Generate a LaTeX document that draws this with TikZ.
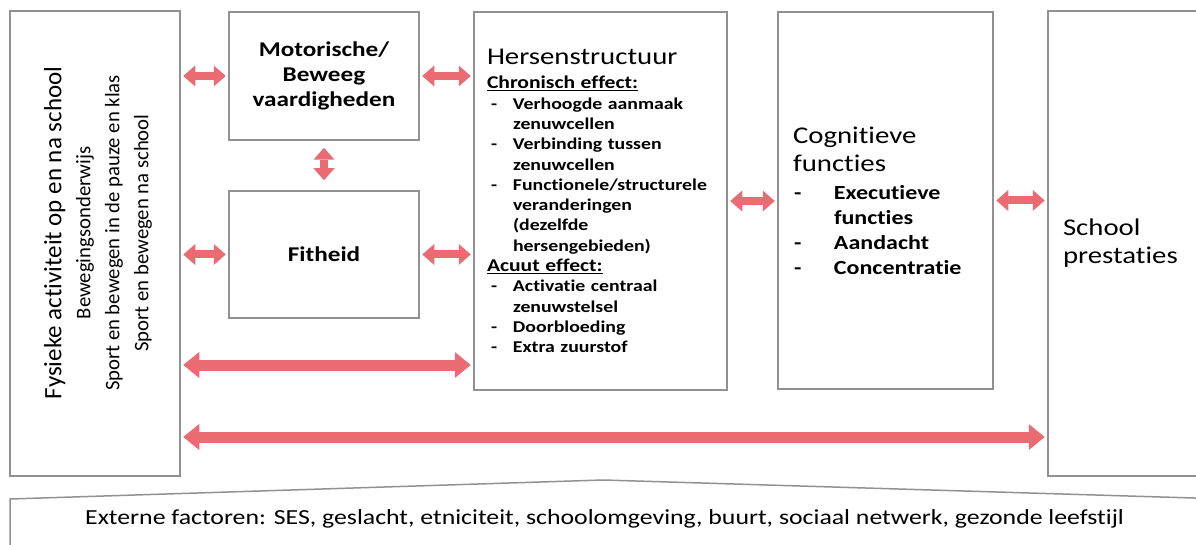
\documentclass[tikz,border=0pt]{standalone}
\usepackage{fontspec}
\setmainfont{Carlito}[FakeStretch=1.2, RawFeature={-liga;-clig;-calt;-dlig}]
\newfontfamily\upfont{Carlito}[RawFeature={-liga;-clig;-calt;-dlig}]
\usetikzlibrary{arrows.meta}
\definecolor{linkred}{RGB}{234,107,113}
\definecolor{boxgray}{RGB}{145,145,145}

% dash items in the text boxes
\newcommand{\hdash}[1]{\makebox[26pt][l]{\hspace*{4pt}-}#1}
\newcommand{\hcont}[1]{\hspace*{26pt}#1}
\newcommand{\cdash}[1]{\makebox[41pt][l]{\hspace*{1pt}-}#1}
\newcommand{\ccont}[1]{\hspace*{41pt}#1}

\begin{document}
\begin{tikzpicture}[x=1pt,y=-1pt,
    box/.style={draw=boxgray, line width=1.5pt, inner sep=0pt},
    link/.style={draw=linkred, line width=8pt, shorten <=2.5pt, shorten >=2.5pt,
        {Triangle[width=21pt,length=12pt,line width=0pt]}-{Triangle[width=21pt,length=12pt,line width=0pt]}},
    longlink/.style={link, line width=11pt,
        {Triangle[width=26pt,length=16pt,line width=0pt]}-{Triangle[width=26pt,length=16pt,line width=0pt]}}]
    \useasboundingbox (0,0) rectangle (1196,545);
    \clip (0,0) rectangle (1196,545);

    % Left box with rotated text
    \node[box, minimum width=170, minimum height=465] (fysiek) at (95,243.5) {};
    \node[rotate=90, align=center, font=\upfont\fontsize{20.7}{29}\selectfont] (fysiektxt) at (98,233)
        {{\fontsize{25}{29}\selectfont Fysieke activiteit op en na school}\\[0pt]
         Bewegingsonderwijs\\ Sport en bewegen in de pauze en klas\\ Sport en bewegen na school};

    % Middle column
    \node[box, minimum width=190, minimum height=128, align=center,
          font=\bfseries\fontsize{21}{25}\selectfont] (motor) at (324,76) {Motorische/\\Beweeg\\vaardigheden};
    \node[box, minimum width=190, minimum height=127,
          font=\bfseries\fontsize{21}{25}\selectfont] (fit) at (324,254.5) {Fitheid};

    % Brain structure
    \node[box, minimum width=253, minimum height=378, text width=227, align=left,
          font=\bfseries\fontsize{16.5}{20.3}\selectfont] (hersen) at (600.5,201)
        {{\mdseries\fontsize{24}{24}\selectfont Hersenstructuur}\\[4pt]
         {\fontsize{18}{20}\selectfont\underline{Chronisch effect:}}\\
         \hdash{Verhoogde aanmaak}\\ \hcont{zenuwcellen}\\
         \hdash{Verbinding tussen}\\ \hcont{zenuwcellen}\\
         \hdash{Functionele/structurele}\\ \hcont{veranderingen}\\ \hcont{(dezelfde}\\ \hcont{hersengebieden)}\\
         {\fontsize{18}{20}\selectfont\underline{Acuut effect:}}\\
         \hdash{Activatie centraal}\\ \hcont{zenuwstelsel}\\
         \hdash{Doorbloeding}\\ \hdash{Extra zuurstof}};

    % Cognitive functions
    \node[box, minimum width=215, minimum height=377, text width=185, align=left,
          font=\bfseries\fontsize{20}{25}\selectfont] (cog) at (885.5,200.5)
        {{\mdseries\fontsize{24}{28}\selectfont Cognitieve}\\[3pt]
         {\mdseries\fontsize{24}{28}\selectfont functies}\\[3pt]
         \cdash{Executieve}\\ \ccont{functies}\\ \cdash{Aandacht}\\ \cdash{Concentratie}};

    % School results
    \node[box, minimum width=200, minimum height=465, text width=170, align=left,
          font=\fontsize{24}{28}\selectfont] (school) at (1148,243.5) {School\\prestaties};

    % External factors
    \draw[boxgray, line width=1.5pt] (10,560) -- (10,499) -- (603,480) -- (1210,498.5);
    \node[font=\fontsize{21.5}{24}\selectfont] (extern) at (604.5,519)
        {Externe factoren: SES, geslacht, etniciteit, schoolomgeving, buurt, sociaal netwerk, gezonde leefstijl};

    % Arrows
    \coordinate (row3) at (0,365);
    \coordinate (row4) at (0,437);
    \draw[link] (fysiek.east |- motor.west) -- (motor.west);
    \draw[link] (motor.east) -- (motor.east -| hersen.west);
    \draw[link, shorten <=7pt, shorten >=10pt] (motor.south) -- (fit.north);
    \draw[link] (fysiek.east |- fit.west) -- (fit.west);
    \draw[link] (fit.east) -- (fit.east -| hersen.west);
    \draw[longlink] (fysiek.east |- row3) -- (hersen.west |- row3);
    \draw[link] (hersen.east) -- (hersen.east -| cog.west);
    \draw[link] (cog.east) -- (cog.east -| school.west);
    \draw[longlink] (fysiek.east |- row4) -- (school.west |- row4);
\end{tikzpicture}
\end{document}
